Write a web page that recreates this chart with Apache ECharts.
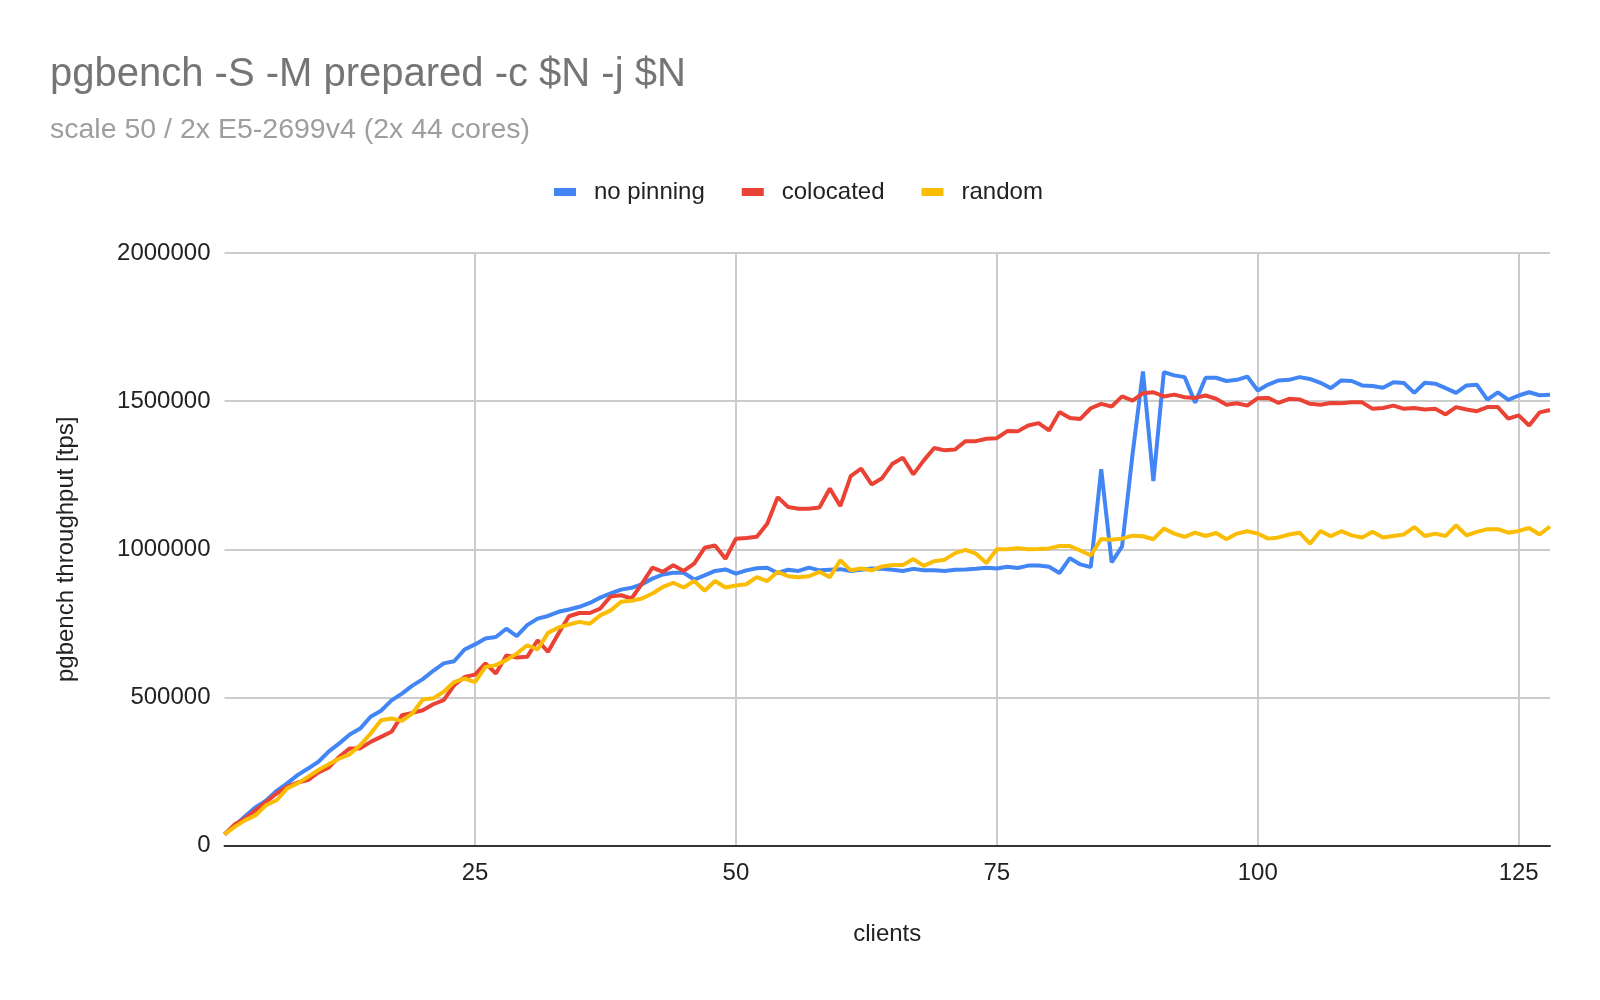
<!DOCTYPE html>
<html>
  <head>
    <meta charset="utf-8">
    <title>pgbench</title>
    <script src="https://cdn.jsdelivr.net/npm/echarts@6/dist/echarts.min.js"></script>
    <style>
      html, body { margin: 0; padding: 0; background: #fff; }
      #main { width: 1600px; height: 1000px; }
    </style>
  </head>
  <body>
    <div id="main"></div>
    <script>
      const clients = [
        1, 2, 3, 4, 5, 6, 7, 8, 9, 10, 11, 12, 13, 14, 15, 16, 17, 18, 19, 20,
        21, 22, 23, 24, 25, 26, 27, 28, 29, 30, 31, 32, 33, 34, 35, 36, 37, 38, 39, 40,
        41, 42, 43, 44, 45, 46, 47, 48, 49, 50, 51, 52, 53, 54, 55, 56, 57, 58, 59, 60,
        61, 62, 63, 64, 65, 66, 67, 68, 69, 70, 71, 72, 73, 74, 75, 76, 77, 78, 79, 80,
        81, 82, 83, 84, 85, 86, 87, 88, 89, 90, 91, 92, 93, 94, 95, 96, 97, 98, 99, 100,
        101, 102, 103, 104, 105, 106, 107, 108, 109, 110, 111, 112, 113, 114, 115, 116, 117, 118, 119, 120,
        121, 122, 123, 124, 125, 126, 127, 128
      ]

      // tps, one value per client count
      const noPinning = [
        38000, 68000, 100000, 130000, 152000, 185000, 210000, 238000, 260000, 283000,
        318000, 345000, 375000, 395000, 435000, 455000, 490000, 513000, 540000, 562000,
        590000, 615000, 622000, 662000, 679000, 699000, 704000, 732000, 707000, 744000,
        766000, 775000, 789000, 797000, 806000, 819000, 837000, 851000, 864000, 870000,
        882000, 901000, 915000, 921000, 921000, 898000, 912000, 927000, 932000, 918000,
        929000, 936000, 938000, 920000, 931000, 927000, 938000, 929000, 931000, 933000,
        927000, 931000, 935000, 934000, 931000, 927000, 934000, 929000, 929000, 927000,
        931000, 932000, 934000, 938000, 935000, 941000, 937000, 945000, 945000, 941000,
        920000, 970000, 949000, 940000, 1270000, 956000, 1010000, 1320000, 1600000, 1230000,
        1598000, 1587000, 1581000, 1495000, 1579000, 1579000, 1568000, 1572000, 1583000, 1536000,
        1556000, 1570000, 1572000, 1581000, 1575000, 1562000, 1544000, 1570000, 1568000, 1553000,
        1551000, 1545000, 1564000, 1561000, 1528000, 1562000, 1559000, 1544000, 1528000, 1553000,
        1555000, 1505000, 1530000, 1504000, 1519000, 1530000, 1520000, 1522000
      ]
      const colocated = [
        38000, 72000, 92000, 120000, 148000, 176000, 199000, 213000, 221000, 247000,
        264000, 300000, 328000, 328000, 350000, 367000, 384000, 440000, 448000, 457000,
        477000, 491000, 541000, 569000, 577000, 615000, 581000, 642000, 635000, 637000,
        693000, 654000, 716000, 774000, 785000, 785000, 800000, 841000, 845000, 834000,
        884000, 938000, 924000, 946000, 927000, 952000, 1005000, 1013000, 968000, 1036000,
        1038000, 1042000, 1086000, 1176000, 1143000, 1137000, 1137000, 1141000, 1205000, 1146000,
        1247000, 1272000, 1219000, 1240000, 1289000, 1309000, 1253000, 1300000, 1342000, 1334000,
        1337000, 1365000, 1365000, 1373000, 1375000, 1399000, 1398000, 1418000, 1426000, 1401000,
        1463000, 1443000, 1440000, 1476000, 1491000, 1482000, 1516000, 1502000, 1527000, 1530000,
        1516000, 1522000, 1513000, 1511000, 1519000, 1508000, 1488000, 1493000, 1485000, 1510000,
        1511000, 1494000, 1508000, 1506000, 1491000, 1488000, 1494000, 1493000, 1496000, 1496000,
        1474000, 1477000, 1485000, 1474000, 1477000, 1472000, 1474000, 1455000, 1480000, 1472000,
        1466000, 1480000, 1480000, 1441000, 1452000, 1418000, 1462000, 1470000
      ]
      const random = [
        38000, 64000, 86000, 103000, 137000, 153000, 193000, 210000, 232000, 255000,
        275000, 294000, 308000, 339000, 378000, 423000, 429000, 421000, 446000, 493000,
        497000, 519000, 552000, 564000, 552000, 603000, 609000, 626000, 648000, 676000,
        662000, 718000, 736000, 746000, 755000, 749000, 777000, 794000, 823000, 826000,
        834000, 851000, 873000, 887000, 871000, 893000, 860000, 893000, 871000, 878000,
        882000, 906000, 893000, 924000, 909000, 906000, 909000, 924000, 906000, 963000,
        929000, 935000, 929000, 942000, 947000, 947000, 967000, 944000, 960000, 965000,
        987000, 998000, 985000, 954000, 1000000, 1000000, 1004000, 1000000, 1001000, 1003000,
        1011000, 1011000, 996000, 979000, 1035000, 1032000, 1036000, 1046000, 1044000, 1034000,
        1070000, 1053000, 1042000, 1056000, 1045000, 1055000, 1034000, 1053000, 1061000, 1053000,
        1036000, 1040000, 1050000, 1056000, 1019000, 1062000, 1044000, 1061000, 1047000, 1040000,
        1059000, 1040000, 1045000, 1050000, 1075000, 1045000, 1053000, 1045000, 1081000, 1047000,
        1059000, 1068000, 1068000, 1056000, 1062000, 1072000, 1050000, 1077000
      ]

      const seriesNames = ['no pinning', 'colocated', 'random']
      const seriesColors = ['#4285f4', '#ea4335', '#fbbc04']
      const yTicks = [0, 500000, 1000000, 1500000, 2000000]
      const xTickEvery = 25

      const font = "'Liberation Sans', Arial, sans-serif"
      const showTick = (idx, val) => Number(val) % xTickEvery === 0

      const chart = echarts.init(document.getElementById('main'), null, { renderer: 'canvas' })

      const option = {
        animation: false,
        backgroundColor: '#ffffff',
        textStyle: { fontFamily: font },
        title: {
          text: 'pgbench -S -M prepared -c $N -j $N',
          subtext: 'scale 50 / 2x E5-2699v4 (2x 44 cores)',
          left: 50,
          top: 55,
          padding: 0,
          itemGap: 21,
          textStyle: { fontFamily: font, fontSize: 40, fontWeight: 'normal', color: '#757575', lineHeight: 40 },
          subtextStyle: { fontFamily: font, fontSize: 28.5, color: '#9e9e9e', lineHeight: 28 },
        },
        legend: {
          left: 554,
          top: 180,
          padding: 0,
          itemGap: 37,
          itemWidth: 22,
          itemHeight: 8,
          data: seriesNames.map(name => ({ name, icon: 'rect' })),
          textStyle: { fontFamily: font, fontSize: 24, color: '#222', padding: [0, 0, 0, 13] },
        },
        grid: { left: 224.5, right: 50, top: 253, bottom: 154.4, containLabel: false },
        xAxis: {
          type: 'category',
          data: clients,
          boundaryGap: false,
          name: 'clients',
          nameLocation: 'middle',
          nameGap: 77,
          nameTextStyle: { fontFamily: font, fontSize: 24, color: '#222' },
          axisLine: { show: true, lineStyle: { color: '#333', width: 2 } },
          axisTick: { show: false },
          axisLabel: { interval: showTick, fontFamily: font, fontSize: 24, color: '#222', margin: 16 },
          splitLine: { show: true, interval: showTick, lineStyle: { color: '#cccccc', width: 2 } },
        },
        yAxis: {
          type: 'value',
          min: yTicks[0],
          max: yTicks[yTicks.length - 1],
          interval: yTicks[1] - yTicks[0],
          name: 'pgbench throughput [tps]',
          nameLocation: 'middle',
          nameGap: 146,
          nameTextStyle: { fontFamily: font, fontSize: 24, color: '#222' },
          axisLine: { show: false },
          axisTick: { show: false },
          // plain digits, no thousands separator
          axisLabel: { fontFamily: font, fontSize: 24, color: '#222', margin: 14, formatter: v => String(v) },
          splitLine: { show: true, lineStyle: { color: '#cccccc', width: 2 } },
        },
        series: [noPinning, colocated, random].map((data, i) => ({
          name: seriesNames[i],
          type: 'line',
          data: data,
          showSymbol: false,
          symbol: 'none',
          color: seriesColors[i],
          lineStyle: { width: 4, color: seriesColors[i] },
        })),
      }

      chart.setOption(option)
    </script>
  </body>
</html>
